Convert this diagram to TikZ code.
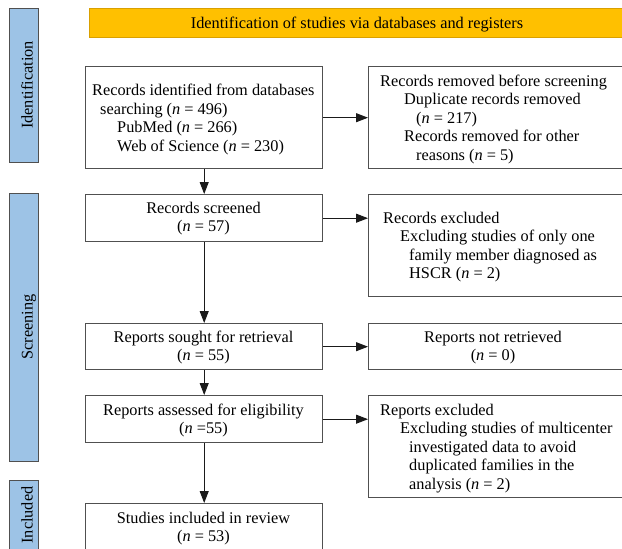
\documentclass[tikz,border=0pt]{standalone}
\usepackage{fontspec}
\setmainfont{Liberation Serif}
\usetikzlibrary{arrows.meta}
\definecolor{barblue}{HTML}{9DC3E6}
\definecolor{barorange}{HTML}{FFC000}
\definecolor{orangeedge}{HTML}{D9A000}
\definecolor{lineg}{HTML}{505050}
\definecolor{arrg}{HTML}{1A1A1A}
\newcommand{\nn}{\textit{n}}
\newcommand{\Lft}[1]{\vtop{\halign{##\hfil\cr#1\crcr}}}
\newcommand{\Ctr}[1]{\vtop{\halign{\hfil##\hfil\cr#1\crcr}}}
\begin{document}
\begin{tikzpicture}[x=1pt,y=-1pt,
  box/.style={draw=lineg, line width=1.4pt, fill=white, anchor=north west, inner sep=0pt},
  phase/.style={draw=lineg, line width=1.4pt, fill=barblue, anchor=north west, inner sep=0pt},
  banner/.style={draw=orangeedge, line width=1pt, fill=barorange, anchor=north west, inner sep=0pt},
  txt/.style={inner sep=0pt, font=\fontsize{16.3}{18.5}\selectfont},
  vtxt/.style={inner sep=0pt, font=\fontsize{16.3}{18.5}\selectfont, rotate=90, anchor=base},
  arr/.style={draw=arrg, line width=1pt, -{Triangle[length=12pt,width=9pt]}}]
\useasboundingbox (0,0) rectangle (622,549);
\clip (0,0) rectangle (622,549);

% phase bars
\node[banner, minimum width=545pt, minimum height=29pt] (ban) at (89,8) {};
\node[phase, minimum width=29pt, minimum height=154pt] (pid) at (9,8) {};
\node[phase, minimum width=29pt, minimum height=268pt] (psc) at (9,193) {};
\node[phase, minimum width=29pt, minimum height=90pt] (pin) at (9,480) {};

\node[txt, anchor=base] (tban) at (357,28) {Identification of studies via databases and registers};
\node[vtxt] (tid) at (32.5,85) {Identification};
\node[vtxt] (tsc) at (32.5,327) {Screening};
\node[vtxt] (tin) at (32.5,515) {Included};

% boxes
\node[box, minimum width=237pt, minimum height=102pt] (b1) at (85,66) {};
\node[box, minimum width=265pt, minimum height=102pt] (b2) at (368,66) {};
\node[box, minimum width=237pt, minimum height=47pt] (rs) at (85,194) {};
\node[box, minimum width=265pt, minimum height=102pt] (re) at (368,194) {};
\node[box, minimum width=237pt, minimum height=46pt] (so) at (85,323) {};
\node[box, minimum width=265pt, minimum height=46pt] (nr) at (368,323) {};
\node[box, minimum width=237pt, minimum height=47pt] (ra) at (85,395) {};
\node[box, minimum width=265pt, minimum height=102pt] (rx) at (368,395) {};
\node[box, minimum width=237pt, minimum height=70pt] (si) at (85,503) {};

% texts
\node[txt, anchor=base west] (t1) at (92,95.5) {\Lft{Records identified from databases\cr
  \hspace*{8pt}searching (\nn{} = 496)\cr
  \hspace*{25pt}PubMed (\nn{} = 266)\cr
  \hspace*{25pt}Web of Science (\nn{} = 230)}};
\node[txt, anchor=base west] (t2) at (380,86) {\Lft{Records removed before screening\cr
  \hspace*{24pt}Duplicate records removed\cr
  \hspace*{36pt}(\nn{} = 217)\cr
  \hspace*{24pt}Records removed for other\cr
  \hspace*{36pt}reasons (\nn{} = 5)}};
\node[txt, anchor=base] (t3) at (203.5,213) {\Ctr{Records screened\cr (\nn{} = 57)}};
\node[txt, anchor=base west] (t4) at (383,223) {\Lft{Records excluded\cr
  \hspace*{17pt}Excluding studies of only one\cr
  \hspace*{26pt}family member diagnosed as\cr
  \hspace*{26pt}HSCR (\nn{} = 2)}};
\node[txt, anchor=base] (t5) at (203.5,342) {\Ctr{Reports sought for retrieval\cr (\nn{} = 55)}};
\node[txt, anchor=base] (t6) at (493,342) {\Ctr{Reports not retrieved\cr (\nn{} = 0)}};
\node[txt, anchor=base] (t7) at (203.5,415) {\Ctr{Reports assessed for eligibility\cr (\nn{} =55)}};
\node[txt, anchor=base west] (t8) at (380,415) {\Lft{Reports excluded\cr
  \hspace*{20pt}Excluding studies of multicenter\cr
  \hspace*{29pt}investigated data to avoid\cr
  \hspace*{29pt}duplicated families in the\cr
  \hspace*{29pt}analysis (\nn{} = 2)}};
\node[txt, anchor=base] (t9) at (203.5,523) {\Ctr{Studies included in review\cr (\nn{} = 53)}};

% connectors
\draw[arr] (b1.east) -- (b1.east -| b2.west);
\draw[arr] (rs.east) -- (rs.east -| re.west);
\draw[arr] (so.east) -- (so.east -| nr.west);
\draw[arr] (ra.east) -- (ra.east -| rx.west);
\draw[arr] (b1.south) -- (rs.north);
\draw[arr] (rs.south) -- (so.north);
\draw[arr] (so.south) -- (ra.north);
\draw[arr] (ra.south) -- (si.north);
\end{tikzpicture}
\end{document}
